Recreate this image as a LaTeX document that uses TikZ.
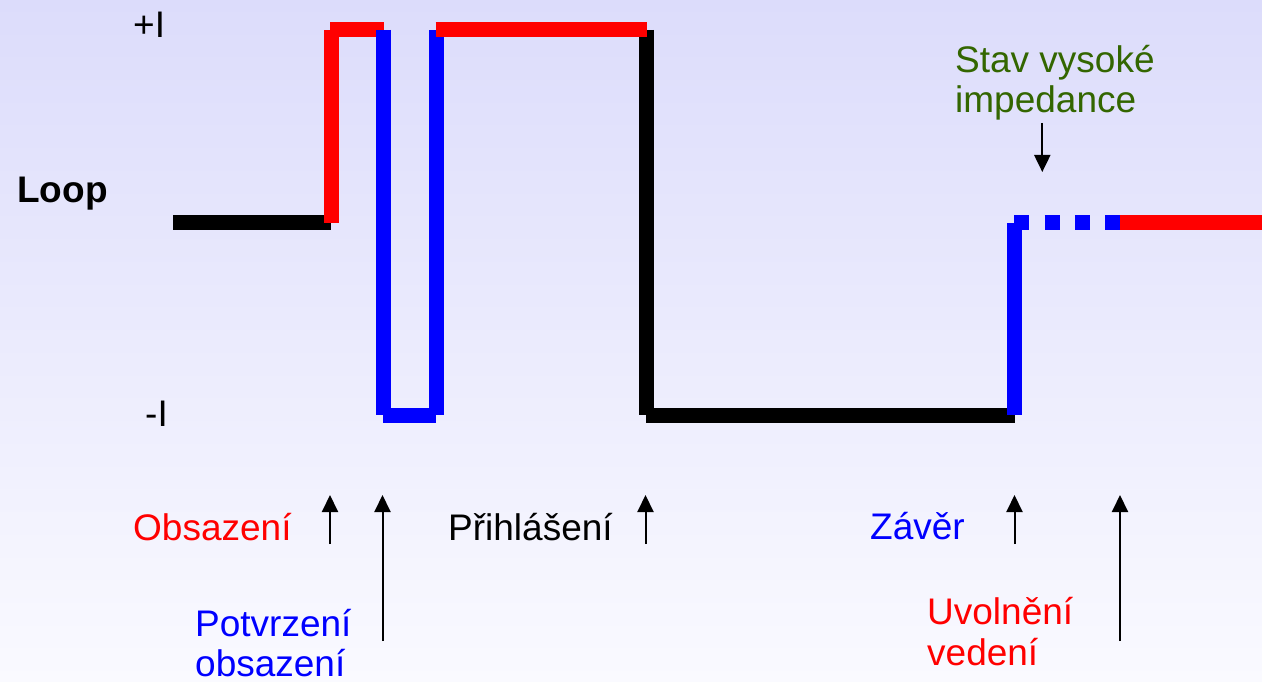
\documentclass[tikz,border=0pt]{standalone}
\usepackage{fontspec}
\setmainfont{Liberation Sans}
\usetikzlibrary{arrows.meta}
\definecolor{bgtop}{RGB}{220,220,251}
\definecolor{bgbot}{RGB}{250,250,255}
\definecolor{stavgreen}{RGB}{51,102,0}
\begin{document}
\begin{tikzpicture}[x=1pt,y=-1pt,
  wave/.style={line width=15pt, line cap=butt},
  lbl/.style={inner sep=0pt, anchor=base west, font=\fontsize{37}{41}\selectfont},
  evarrow/.style={line width=2pt, -{Triangle[length=17pt,width=16pt]}}]
\fill[top color=bgtop, bottom color=bgbot] (0,0) rectangle (1262,682);
\useasboundingbox (0,0) rectangle (1262,682);
% waveform
\draw[wave, black] (173,222.5) -- (331,222.5);
\draw[wave, red] (331,222.5) -- (331,30);
\draw[wave, red] (330,30) -- (384,30);
\draw[wave, blue] (383.5,30) -- (383.5,415);
\draw[wave, blue] (383,415) -- (436,415);
\draw[wave, blue] (436.5,415) -- (436.5,30);
\draw[wave, black] (646.7,30) -- (646.7,415);
\draw[wave, red] (435.5,30) -- (646.7,30);
\draw[wave, black] (646,415) -- (1014.5,415);
\draw[wave, blue] (1014.7,415) -- (1014.7,222.7);
\draw[wave, blue, dash pattern=on 15pt off 15.3pt] (1014.3,222.5) -- (1120,222.5);
\draw[wave, red] (1119.7,222.5) -- (1262,222.5);
% axis labels
\node[lbl] (plusI) at (133,38) {+I};
\node[lbl] (minusI) at (145,426) {-I};
\node[lbl, font=\fontsize{37}{41}\selectfont\bfseries] (loop) at (17,203) {Loop};
% event labels
\node[lbl, red] (obs) at (133,540) {Obsazení};
\node[lbl, blue] (pot1) at (195,636) {Potvrzení};
\node[lbl, blue] (pot2) at (195,676) {obsazení};
\node[lbl, black] (prih) at (448,540) {Přihlášení};
\node[lbl, blue] (zav) at (870,539) {Závěr};
\node[lbl, red] (uvol1) at (927,624) {Uvolnění};
\node[lbl, red] (uvol2) at (927,665) {vedení};
\node[lbl, stavgreen] (stav1) at (955,73) {Stav vysoké};
\node[lbl, stavgreen] (stav2) at (955,113) {impedance};
% arrow coordinates
\coordinate (a1s) at (330,544); \coordinate (a1e) at (330,495);
\coordinate (a2s) at (382.5,641); \coordinate (a2e) at (382.5,495);
\coordinate (a3s) at (645.5,544); \coordinate (a3e) at (645.5,495);
\coordinate (a4s) at (1014.5,544); \coordinate (a4e) at (1014.5,495);
\coordinate (a5s) at (1120,641); \coordinate (a5e) at (1120,495);
\coordinate (hs) at (1042.3,123); \coordinate (he) at (1042.3,172);
\draw[evarrow] (a1s) -- (a1e);
\draw[evarrow] (a2s) -- (a2e);
\draw[evarrow] (a3s) -- (a3e);
\draw[evarrow] (a4s) -- (a4e);
\draw[evarrow] (a5s) -- (a5e);
\draw[evarrow] (hs) -- (he);
\end{tikzpicture}
\end{document}
